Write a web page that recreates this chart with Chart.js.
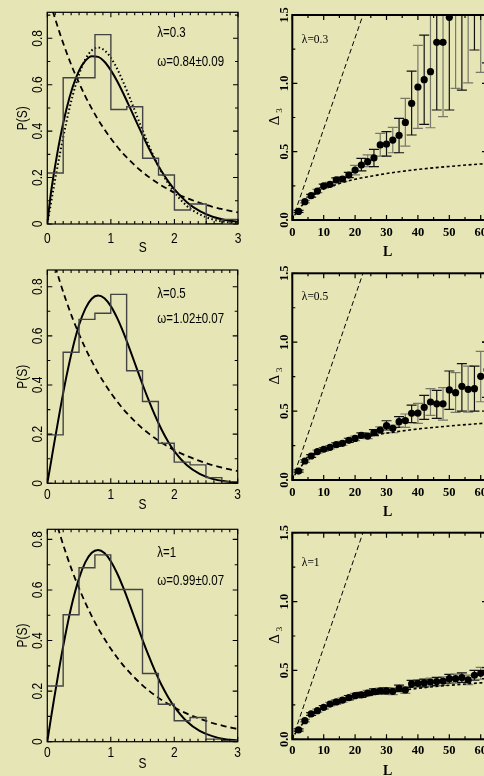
<!DOCTYPE html>
<html>
<head>
<meta charset="utf-8">
<script src="https://cdn.jsdelivr.net/npm/chart.js@4.4.1/dist/chart.umd.min.js"></script>
<style>
html,body{margin:0;padding:0;width:484px;height:776px;overflow:hidden;background:#e6e5b6;position:relative}
canvas{position:absolute}
</style>
</head>
<body>
<canvas id="p1" width="250" height="260" style="left:0;top:0"></canvas>
<canvas id="p2" width="250" height="270" style="left:0;top:250px"></canvas>
<canvas id="p3" width="250" height="270" style="left:0;top:506px"></canvas>
<canvas id="r1" width="300" height="262" style="left:250px;top:0"></canvas>
<canvas id="r2" width="300" height="280" style="left:250px;top:250px"></canvas>
<canvas id="r3" width="300" height="270" style="left:250px;top:506px"></canvas>
<script>
// spacing distributions (left) and spectral rigidity (right), lambda = 0.3, 0.5, 1

// histogram bins
const S_EDGES=[0,0.25,0.5,0.75,1,1.25,1.5,1.75,2,2.25,2.5,2.75,3];
const HIST_03=[0.22,0.63,0.63,0.816,0.493,0.505,0.283,0.211,0.06,0.086,0.0,0.02];
const HIST_05=[0.197,0.533,0.667,0.692,0.769,0.458,0.333,0.163,0.086,0.075,0.023,0.007];
const HIST_1=[0.22,0.502,0.688,0.739,0.602,0.602,0.270,0.148,0.083,0.096,0.01,0.004];

// curves
const S_CURVE=[0,0.05,0.1,0.2,0.3,0.4,0.5,0.6,0.7,0.8,0.9,1.0,1.1,1.2,1.3,1.4,1.5,1.6,1.7,1.8,1.9,2.0,2.2,2.4,2.6,2.8,3.0];
const POISSON=[1,0.951,0.905,0.819,0.741,0.670,0.607,0.549,0.497,0.449,0.407,0.368,0.333,0.301,0.273,0.247,0.223,0.202,0.183,0.165,0.150,0.135,0.111,0.091,0.074,0.061,0.050];
const WIGNER=[0,0.078,0.156,0.304,0.439,0.554,0.645,0.710,0.748,0.760,0.748,0.716,0.668,0.608,0.542,0.472,0.403,0.337,0.276,0.222,0.175,0.136,0.077,0.041,0.020,0.009,0.004];
const FIT_03=[0,0.119,0.211,0.368,0.493,0.591,0.661,0.704,0.723,0.720,0.699,0.662,0.615,0.560,0.501,0.441,0.382,0.325,0.273,0.226,0.185,0.149,0.093,0.055,0.031,0.017,0.009];
const FIT_05=[0,0.074,0.150,0.297,0.433,0.550,0.644,0.711,0.751,0.764,0.753,0.721,0.673,0.613,0.545,0.474,0.403,0.336,0.274,0.219,0.171,0.131,0.073,0.038,0.018,0.008,0.003];
const FIT_1=[0,0.081,0.159,0.308,0.442,0.556,0.646,0.710,0.747,0.758,0.746,0.714,0.666,0.607,0.541,0.472,0.403,0.338,0.278,0.224,0.178,0.139,0.080,0.043,0.022,0.010,0.005];

// delta_3 data
const L_PTS=[2,4,6,8,10,12,14,16,18,20,22,24,26,28,30,32,34,36,38,40,42,44,46,48,50,52,54,56,58,60,62];
const D_03=[0.063,0.134,0.178,0.212,0.249,0.261,0.293,0.300,0.329,0.366,0.402,0.427,0.454,0.549,0.556,0.585,0.619,0.714,0.853,0.973,1.027,1.085,1.300,1.300,1.483,1.66,1.65,1.72,1.86,1.78,1.9];
const LO_03=[0.055,0.125,0.168,0.200,0.236,0.247,0.278,0.283,0.310,0.330,0.360,0.390,0.390,0.468,0.468,0.492,0.492,0.541,0.622,0.671,0.700,0.675,0.805,0.756,0.805,0.963,0.951,1.004,1.244,1.080,1.15];
const HI_03=[0.071,0.143,0.188,0.224,0.262,0.275,0.308,0.317,0.348,0.400,0.451,0.476,0.517,0.634,0.646,0.678,0.744,0.890,1.090,1.278,1.353,1.60,1.80,1.85,2.1,2.3,2.3,2.4,2.5,2.5,2.6];
const D_05=[0.065,0.138,0.174,0.206,0.223,0.237,0.256,0.266,0.288,0.302,0.324,0.319,0.344,0.363,0.394,0.375,0.423,0.431,0.484,0.486,0.527,0.566,0.553,0.553,0.654,0.634,0.680,0.658,0.663,0.752,0.80];
const LO_05=[0.057,0.128,0.164,0.195,0.212,0.225,0.243,0.252,0.273,0.286,0.306,0.300,0.322,0.340,0.363,0.343,0.382,0.382,0.416,0.411,0.440,0.469,0.447,0.435,0.513,0.491,0.500,0.493,0.500,0.568,0.60];
const HI_05=[0.073,0.148,0.184,0.217,0.234,0.249,0.269,0.280,0.303,0.318,0.342,0.338,0.366,0.386,0.430,0.399,0.460,0.479,0.544,0.556,0.614,0.663,0.651,0.670,0.791,0.779,0.844,0.827,0.827,0.934,1.00];
const D_1=[0.068,0.135,0.184,0.208,0.232,0.256,0.271,0.285,0.302,0.317,0.322,0.336,0.346,0.351,0.351,0.348,0.370,0.358,0.402,0.406,0.409,0.416,0.419,0.423,0.440,0.440,0.448,0.431,0.465,0.479,0.48];
const LO_1=[0.060,0.126,0.174,0.197,0.220,0.243,0.257,0.270,0.286,0.300,0.304,0.317,0.326,0.330,0.329,0.325,0.346,0.334,0.376,0.379,0.381,0.387,0.389,0.392,0.408,0.407,0.414,0.396,0.429,0.436,0.44];
const HI_1=[0.076,0.144,0.194,0.219,0.244,0.269,0.285,0.300,0.318,0.334,0.340,0.355,0.366,0.372,0.373,0.371,0.394,0.382,0.428,0.433,0.437,0.445,0.449,0.454,0.472,0.473,0.482,0.466,0.501,0.522,0.52];
const L_POI=[0,62], D_POI=[0,4.133];
const L_GOE=[0,0.5,1,2,3,4,6,8,10,15,20,25,30,40,50,60,62];
const D_GOE=[0,0.027,0.045,0.075,0.104,0.133,0.175,0.204,0.226,0.267,0.298,0.320,0.340,0.370,0.392,0.410,0.413];

// ticks
const S_TICKS=[0,1,2,3], S_LABELS=['0','1','2','3'];
const P_TICKS=[0,0.2,0.4,0.6,0.8], P_LABELS=['0','0.2','0.4','0.6','0.8'];
const L_TICKS=[0,10,20,30,40,50,60], L_LABELS=['0','10','20','30','40','50','60'];
const D_TICKS=[0,0.5,1,1.5], D_LABELS=['0.0','0.5','1.0','1.5'];

const SANS='"Liberation Sans",Arial,sans-serif', SERIF='"Liberation Serif","Times New Roman",serif';
const pts=(xs,ys)=>xs.map((v,i)=>({x:v,y:ys[i]}));
const histPts=h=>S_EDGES.map((e,i)=>({x:e,y:h[Math.min(i,h.length-1)]}));

function txt(ctx,s,x,y,font,rot,sy,align){
  ctx.save();ctx.translate(x,y);if(rot)ctx.rotate(rot);ctx.scale(1,sy||1);
  ctx.font=font;ctx.textAlign=align||'center';ctx.textBaseline='middle';ctx.fillText(s,0,0);ctx.restore();
}

function frame(o){return{id:'frame',afterDraw(c){
  const {ctx,chartArea:a,scales:{x,y}}=c;
  const maj=(v,arr)=>arr.some(m=>Math.abs(m-v)<1e-6);
  ctx.save();ctx.strokeStyle='#000';ctx.lineWidth=o.tw;ctx.beginPath();
  for(let i=0;i*o.xStep<=x.max+1e-9;i++){
    const v=i*o.xStep,px=x.getPixelForValue(v),n=maj(v,o.xT)?o.maj:o.min;
    ctx.moveTo(px,a.bottom);ctx.lineTo(px,a.bottom-n);ctx.moveTo(px,a.top);ctx.lineTo(px,a.top+n);
  }
  for(let i=0;i*o.yStep<=y.max+1e-9;i++){
    const v=i*o.yStep,py=y.getPixelForValue(v),n=maj(v,o.yT)?o.maj:o.min;
    ctx.moveTo(a.left,py);ctx.lineTo(a.left+n,py);ctx.moveTo(a.right,py);ctx.lineTo(a.right-n,py);
  }
  ctx.stroke();
  ctx.lineWidth=o.bw;ctx.strokeRect(a.left,a.top,a.right-a.left,a.bottom-a.top);
  ctx.fillStyle='#000';
  o.xT.forEach((v,i)=>txt(ctx,o.xL[i],x.getPixelForValue(v),a.bottom+o.xOff,o.tickFont,0,o.sy));
  o.yT.forEach((v,i)=>txt(ctx,o.yL[i],a.left-o.yOff,y.getPixelForValue(v),o.tickFont,-Math.PI/2,o.sy));
  txt(ctx,o.xTitle,(a.left+a.right)/2+(o.xTitleDx||0),a.bottom+o.xTitleOff,o.titleFont,0,o.sy);
  const cy=(a.top+a.bottom)/2;
  if(o.yTitle==='D3'){
    txt(ctx,'\u0394',a.left-o.yTitleOff,cy+3,'15px '+SERIF,-Math.PI/2,1);
    txt(ctx,'3',a.left-o.yTitleOff+4,cy-7,'9px '+SERIF,-Math.PI/2,1);
  }else txt(ctx,o.yTitle,a.left-o.yTitleOff,cy,o.titleFont,-Math.PI/2,o.sy);
  o.notes.forEach(n=>txt(ctx,n[0],a.left+n[1],a.top+n[2],o.noteFont,0,o.sy,'left'));
  ctx.restore();
}};}

function errbars(ls,lo,hi){return{id:'errbars',beforeDatasetsDraw(c){
  const {ctx,chartArea:a,scales:{x,y}}=c;
  ctx.save();ctx.beginPath();ctx.rect(a.left,a.top,a.right-a.left,a.bottom-a.top);ctx.clip();
  ctx.lineWidth=1.2;
  ls.forEach((l,i)=>{
    const px=x.getPixelForValue(l),p1=y.getPixelForValue(lo[i]),p2=y.getPixelForValue(hi[i]);
    ctx.strokeStyle=i%2?'#77776a':'#111';
    ctx.beginPath();ctx.moveTo(px,p1);ctx.lineTo(px,p2);
    ctx.moveTo(px-5,p1);ctx.lineTo(px+5,p1);ctx.moveTo(px-5,p2);ctx.lineTo(px+5,p2);ctx.stroke();
  });
  ctx.restore();
}};}

function mk(id,xMax,yMax,pad,datasets,plugins){
  return new Chart(document.getElementById(id),{type:'line',data:{datasets},
    options:{responsive:false,animation:false,layout:{padding:pad},
      plugins:{legend:{display:false},tooltip:{enabled:false}},
      elements:{point:{radius:0},line:{fill:false}},
      scales:{x:{type:'linear',display:false,min:0,max:xMax},y:{type:'linear',display:false,min:0,max:yMax}}},
    plugins});
}

const histDs=h=>({data:histPts(h),borderColor:'#444',borderWidth:1.4,stepped:'before',pointRadius:0});
const curveDs=(ys,w,dash)=>({data:pts(S_CURVE,ys),borderColor:'#000',borderWidth:w,borderDash:dash||[],cubicInterpolationMode:'monotone',pointRadius:0});

function leftOpts(notes,xOff,xTitleOff){return{tw:1.1,bw:1.2,maj:5,min:3,xStep:0.125,yStep:0.1,xT:S_TICKS,xL:S_LABELS,yT:P_TICKS,yL:P_LABELS,
  xOff,yOff:9,xTitle:'S',xTitleOff,yTitle:'P(S)',yTitleOff:24,sy:1.2,
  tickFont:'12px '+SANS,titleFont:'12px '+SANS,noteFont:'11.5px '+SANS,notes};}

mk('p1',3,0.912,{left:47.3,right:12,top:12.3,bottom:36},
  [histDs(HIST_03),curveDs(WIGNER,2,[1.5,2.5]),curveDs(POISSON,1.8,[6,4]),curveDs(FIT_03,2)],
  [frame(leftOpts([['\u03bb=0.3',110,21],['\u03c9=0.84\u00b10.09',110,50]],15,24))]);
mk('p2',3,0.868,{left:47.3,right:12.3,top:20,bottom:36.7},
  [histDs(HIST_05),curveDs(POISSON,1.8,[6,4]),curveDs(FIT_05,2)],
  [frame(leftOpts([['\u03bb=0.5',110,24],['\u03c9=1.02\u00b10.07',110,49]],12,22))]);
mk('p3',3,0.84,{left:47.3,right:12.3,top:23.3,bottom:34.3},
  [histDs(HIST_1),curveDs(POISSON,1.8,[6,4]),curveDs(FIT_1,2)],
  [frame(leftOpts([['\u03bb=1',110,24],['\u03c9=0.99\u00b10.07',110,52]],11,22))]);

function rightOpts(note,ny,xOff){return{tw:1.2,bw:2,maj:5,min:3,xStep:5,yStep:0.25,xT:L_TICKS,xL:L_LABELS,yT:D_TICKS,yL:D_LABELS,
  xOff,yOff:8,xTitle:'L',xTitleOff:32,xTitleDx:-2,yTitle:'D3',yTitleOff:17,sy:1,
  tickFont:'bold 12.5px '+SERIF,titleFont:'bold 14px '+SERIF,noteFont:'11.5px '+SERIF,notes:[[note,9.5,ny]]};}
const rightDs=d=>[
  {data:pts(L_POI,D_POI),borderColor:'#000',borderWidth:1,borderDash:[5,3],pointRadius:0},
  {data:pts(L_GOE,D_GOE),borderColor:'#000',borderWidth:1.6,borderDash:[3,2.5],cubicInterpolationMode:'monotone',pointRadius:0},
  {data:pts(L_PTS,d),showLine:false,pointRadius:3.6,pointBackgroundColor:'#000',pointBorderWidth:0}
];
mk('r1',62,1.5,{left:42.3,right:63,top:15,bottom:42},rightDs(D_03),
  [errbars(L_PTS,LO_03,HI_03),frame(rightOpts('\u03bb=0.3',25,13))]);
mk('r2',62,1.5,{left:42.3,right:63,top:23.3,bottom:50},rightDs(D_05),
  [errbars(L_PTS,LO_05,HI_05),frame(rightOpts('\u03bb=0.5',24,12.3))]);
mk('r3',62,1.5,{left:42.3,right:63,top:26.7,bottom:36.7},rightDs(D_1),
  [errbars(L_PTS,LO_1,HI_1),frame(rightOpts('\u03bb=1',30.5,11.4))]);
</script>
</body>
</html>
